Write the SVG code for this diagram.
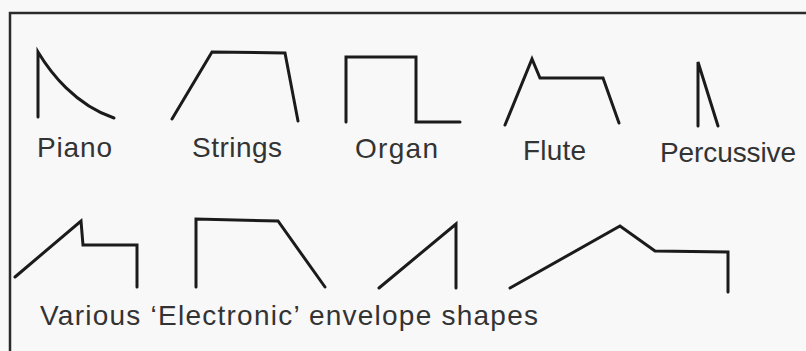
<svg xmlns="http://www.w3.org/2000/svg" width="806" height="351" viewBox="0 0 806 351">
<style>
.ln{fill:none;stroke:#1b1b1b;stroke-width:3;stroke-linejoin:miter;stroke-linecap:round}
.fr{fill:none;stroke:#2a2a2a;stroke-width:2.5}
.t{font-family:"Liberation Sans",Arial,sans-serif;font-size:28px;fill:#333}
</style>
<rect width="806" height="351" fill="#f8f8f8"/>
<path class="fr" d="M10,351 L10,13 L806,13"/>
<g id="piano"><path class="ln" d="M38,117 L38,52 C50,72 75,105 114,118"/><text class="t" x="37" y="157" textLength="75">Piano</text></g>
<g id="strings"><path class="ln" d="M172,119 L212,52 L285,53 L298,121"/><text class="t" x="192" y="157" textLength="90">Strings</text></g>
<g id="organ"><path class="ln" d="M346,122 L346,57 L416,57 L416,122 L460,122"/><text class="t" x="355" y="158" textLength="83">Organ</text></g>
<g id="flute"><path class="ln" d="M505,125 L532,59 L540,78 L603,78 L619,123"/><text class="t" x="523" y="160" textLength="63">Flute</text></g>
<g id="percussive"><path class="ln" d="M698,126 L698,62 L718,126"/><text class="t" x="660" y="162" textLength="136">Percussive</text></g>
<g id="env1"><path class="ln" d="M15,277 L81,221 L83,245 L137,245 L137,287"/></g>
<g id="env2"><path class="ln" d="M196,287 L196,219 L278,221 L325,287"/></g>
<g id="env3"><path class="ln" d="M379,288 L456,224 L456,288"/></g>
<g id="env4"><path class="ln" d="M510,288 L620,226 L655,251 L728,252 L728,292"/></g>
<g id="caption"><text class="t" x="40" y="325" textLength="498">Various ‘Electronic’ envelope shapes</text></g>
</svg>
